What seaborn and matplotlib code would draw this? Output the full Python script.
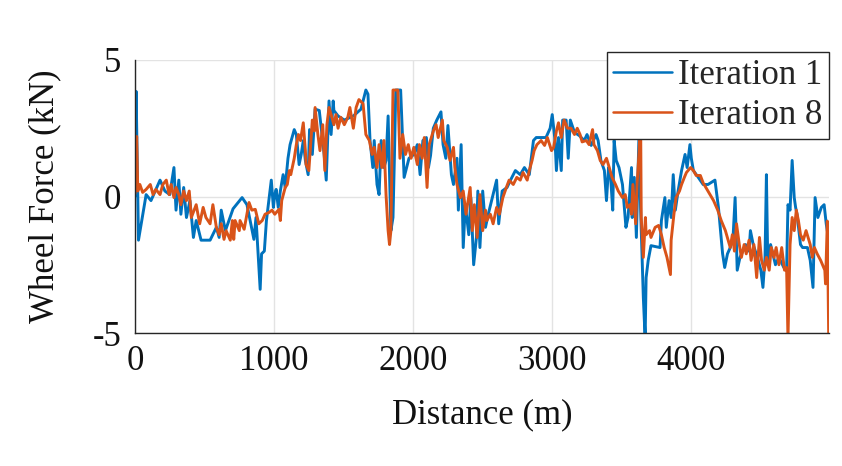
import numpy as np
import pandas as pd
import matplotlib
matplotlib.use("Agg")
import matplotlib.pyplot as plt
import seaborn as sns

# Iteration 1 (distance in m, force in kN)
dist_1 = [0, 8, 25, 80, 115, 180, 215, 250, 280, 295, 315, 330, 350, 370, 395, 420, 440, 475, 540, 585,
          605, 620, 650, 705, 770, 805, 855, 870, 900, 910, 930, 945, 980, 995, 1005, 1015, 1030, 1045, 1065, 1080,
          1100, 1115, 1145, 1160, 1180, 1195, 1210, 1225, 1245, 1255, 1275, 1295, 1325, 1360, 1375, 1395, 1410, 1425, 1430, 1460,
          1505, 1570, 1625, 1660, 1675, 1690, 1710, 1720, 1740, 1755, 1770, 1790, 1805, 1820, 1840, 1855, 1865, 1875, 1910, 1935,
          1970, 2005, 2030, 2050, 2070, 2095, 2110, 2125, 2145, 2170, 2200, 2215, 2235, 2250, 2275, 2290, 2315, 2325, 2345, 2360,
          2375, 2400, 2415, 2435, 2455, 2465, 2480, 2500, 2520, 2540, 2575, 2600, 2615, 2640, 2675, 2700, 2735, 2770, 2800, 2835,
          2865, 2885, 2955, 2985, 3000, 3020, 3030, 3045, 3065, 3075, 3100, 3115, 3130, 3160, 3195, 3230, 3250, 3280, 3315, 3330,
          3350, 3375, 3390, 3405, 3420, 3435, 3445, 3460, 3480, 3505, 3530, 3545, 3570, 3575, 3590, 3605, 3625, 3635, 3655, 3668,
          3675, 3690, 3710, 3775, 3785, 3810, 3820, 3840, 3855, 3870, 3885, 3905, 3930, 3955, 3970, 3990, 4000, 4015, 4050, 4085,
          4120, 4170, 4195, 4225, 4240, 4260, 4280, 4300, 4315, 4330, 4350, 4390, 4415, 4425, 4445, 4475, 4500, 4515, 4530, 4540,
          4550, 4570, 4605, 4630, 4665, 4685, 4695, 4710, 4725, 4740, 4750, 4760, 4785, 4800, 4835, 4855, 4875, 4890, 4910, 4935,
          4955, 4970, 4985]
force_1 = [0.0, 3.85, -1.6, 0.07, -0.15, 0.6, 0.2, 0.07, 1.06, -0.5, 0.6, -0.65, 0.33, -0.77, -0.15, -1.5, -0.88, -1.6, -1.6, -1.13,
           -1.5, -0.5, -1.25, -0.45, -0.04, -0.3, -1.57, -0.77, -3.4, -2.1, -2.0, -0.88, 0.6, -0.4, 0.07, 0.26, -0.4, 0.2, 0.8, 0.33,
           1.4, 1.9, 2.45, 2.27, 1.17, 1.54, 2.05, 1.32, 0.8, 2.45, 1.54, 3.2, 3.15, 1.54, 0.6, 3.5, 2.27, 3.5, 3.15, 2.95,
           2.8, 2.95, 3.2, 3.9, 3.75, 2.05, 1.06, 2.05, 0.44, 0.07, 2.05, 1.06, 1.32, 2.95, -1.25, -0.77, 1.4, 3.9, 3.9, 0.7,
           1.4, 1.54, 1.9, 0.8, 2.05, 2.16, 1.06, 1.5, 2.5, 2.8, 3.1, 1.9, 1.4, 2.6, 0.8, 0.44, 1.4, -0.5, 1.9, -1.87,
           -0.3, -1.4, -0.04, -2.5, -1.5, 0.2, -1.87, 0.2, -1.13, -0.65, 0.07, 0.6, -1.0, 0.2, 0.33, 0.6, 0.95, 0.8, 1.06, 0.8,
           2.05, 2.16, 2.16, 2.5, 3.0, 2.05, 0.95, 2.16, 0.95, 2.8, 2.8, 1.4, 2.8, 2.35, 2.23, 2.05, 2.27, 1.87, 2.27, 2.05,
           1.32, 0.95, -0.15, 1.06, 0.7, -0.5, 2.05, 1.32, 1.06, 0.44, -1.13, -0.77, 1.06, -0.77, 0.7, -1.5, 2.5, -0.4, -3.7, -5.2,
           -2.97, -2.34, -1.8, -1.87, -0.88, -0.04, -1.13, -0.15, -0.77, 0.8, -0.5, 0.2, 0.95, 1.54, 1.06, 1.9, 1.4, 0.95, 0.7, 0.44,
           0.44, 0.6, -0.4, -2.1, -2.6, -2.1, -1.87, -1.5, -0.04, -2.7, -2.23, -1.76, -2.0, -1.25, -1.76, -2.23, -2.7, -3.33, -2.23, 0.8,
           -2.5, -1.76, -2.5, -2.23, -2.6, -2.7, -0.3, -0.5, 1.32, -0.04, -0.4, -0.65, -1.76, -1.87, -1.87, -2.34, -3.33, -0.04, -0.77, -0.4,
           -0.3, -1.0, -1.5]

# Iteration 8
dist_8 = [0, 12, 20, 35, 55, 80, 110, 130, 150, 180, 200, 225, 245, 260, 280, 295, 315, 330, 350, 370,
          390, 405, 425, 440, 465, 490, 510, 540, 560, 585, 605, 620, 640, 655, 685, 700, 710, 720, 750, 755,
          785, 820, 840, 865, 890, 915, 935, 965, 985, 1005, 1035, 1045, 1055, 1080, 1095, 1110, 1120, 1145, 1160, 1175,
          1190, 1210, 1225, 1230, 1250, 1265, 1275, 1290, 1295, 1315, 1330, 1350, 1365, 1380, 1395, 1410, 1430, 1445, 1460, 1480,
          1505, 1530, 1545, 1570, 1590, 1610, 1640, 1660, 1685, 1705, 1720, 1740, 1755, 1775, 1790, 1805, 1820, 1830, 1840, 1855,
          1890, 1905, 1925, 1945, 1965, 1985, 2005, 2030, 2045, 2065, 2080, 2100, 2115, 2145, 2165, 2180, 2210, 2220, 2245, 2265,
          2290, 2300, 2315, 2340, 2360, 2380, 2395, 2410, 2425, 2440, 2460, 2480, 2500, 2520, 2530, 2555, 2575, 2600, 2620, 2645,
          2670, 2690, 2720, 2745, 2770, 2790, 2820, 2835, 2855, 2870, 2890, 2920, 2945, 2965, 2995, 3010, 3030, 3045, 3065, 3085,
          3110, 3135, 3160, 3180, 3200, 3215, 3245, 3265, 3290, 3300, 3325, 3345, 3365, 3390, 3410, 3430, 3455, 3475, 3505, 3525,
          3540, 3560, 3570, 3580, 3600, 3610, 3625, 3635, 3640, 3655, 3670, 3675, 3700, 3710, 3740, 3765, 3785, 3805, 3825, 3850,
          3855, 3875, 3890, 3915, 3930, 3950, 3965, 3995, 4015, 4035, 4065, 4085, 4120, 4160, 4190, 4215, 4245, 4265, 4280, 4295,
          4310, 4325, 4345, 4360, 4380, 4395, 4415, 4430, 4450, 4470, 4490, 4505, 4525, 4540, 4560, 4575, 4595, 4610, 4630, 4650,
          4670, 4685, 4695, 4710, 4725, 4740, 4755, 4770, 4785, 4805, 4825, 4855, 4870, 4885, 4905, 4930, 4960, 4965, 4978, 4988]
force_8 = [0.1, 2.2, 0.2, 0.44, 0.15, 0.26, 0.44, 0.07, 0.26, 0.07, 0.44, 0.6, 0.07, 0.44, -0.04, 0.33, 0.07, -0.3, 0.2, -0.15,
           0.2, -0.77, -0.5, -0.3, -1.0, -0.4, -0.77, -1.0, -0.3, -1.13, -1.4, -1.0, -1.57, -1.25, -1.6, -0.88, -1.57, -0.88, -1.25, -0.88,
           -1.2, -0.22, -0.5, -0.47, -1.0, -0.88, -0.65, -0.58, -0.5, -0.65, -0.47, -0.88, -0.15, 0.33, 0.44, 0.95, 0.8, 1.4, 1.9, 2.27,
           2.05, 2.7, 1.68, 1.17, 0.95, 2.05, 2.8, 2.4, 3.26, 2.27, 1.68, 2.63, 0.95, 2.63, 3.26, 3.0, 2.63, 3.0, 2.5, 2.9,
           2.63, 2.9, 3.26, 2.5, 3.26, 3.55, 3.4, 2.27, 2.05, 1.54, 1.8, 1.06, 1.9, 1.06, 2.05, 0.07, -1.25, -1.76, -1.25, 3.9,
           3.9, 1.4, 2.27, 1.54, 1.9, 1.4, 1.8, 1.17, 1.9, 1.4, 2.16, 0.33, 1.9, 2.4, 2.63, 2.16, 2.8, 2.05, 1.8, 1.32,
           1.8, 1.06, 0.44, -0.04, 0.2, -0.65, -0.15, 0.33, -1.25, -0.3, -1.5, 0.07, -1.25, -0.5, -0.88, -0.65, -1.0, -0.4, -0.65, -0.04,
           0.33, 0.6, 0.44, 0.7, 0.6, 0.88, 0.6, 0.95, 1.32, 1.68, 1.9, 2.05, 1.87, 2.16, 1.68, 1.8, 2.4, 2.7, 2.16, 2.8,
           2.5, 2.5, 2.27, 2.5, 2.27, 2.0, 2.05, 1.9, 2.45, 1.9, 1.68, 1.32, 1.17, 1.4, 1.06, 0.7, 0.44, 0.2, -0.04, 0.07,
           -0.4, -0.3, -0.65, 0.44, -1.0, 0.44, 1.68, 3.2, -0.77, -2.23, -0.77, -1.4, -1.25, -1.5, -1.13, -1.06, -1.4, -1.87, -2.23, -2.86,
           -1.6, -0.65, -0.04, 0.2, 0.44, 0.7, 0.88, 1.06, 0.95, 0.77, 0.77, 0.5, 0.2, -0.15, -0.5, -0.88, -1.25, -1.6, -1.87, -1.4,
           -2.0, -1.0, -1.76, -2.23, -1.76, -2.1, -1.6, -2.34, -1.76, -2.97, -1.5, -2.34, -2.7, -2.23, -2.7, -1.87, -2.23, -1.87, -2.5, -1.87,
           -2.7, -2.6, -5.2, -1.76, -0.77, -1.25, -0.5, -0.88, -1.4, -1.6, -1.25, -1.76, -2.23, -1.87, -2.1, -2.34, -2.7, -3.2, -0.9, -5.2]

x_ticks = [0, 1000, 2000, 3000, 4000]
y_ticks = [-5, 0, 5]

sns.set_theme(style="whitegrid")
plt.rcParams["font.family"] = ["Liberation Serif", "DejaVu Serif"]
plt.rcParams["axes.unicode_minus"] = False

df1 = pd.DataFrame({"Distance": dist_1, "Force": force_1})
df8 = pd.DataFrame({"Distance": dist_8, "Force": force_8})

fig = plt.figure(figsize=(8.42, 4.66), dpi=100)
ax = fig.add_axes([135 / 842, 1 - 333 / 466, (829 - 135) / 842, (333 - 60) / 466])

sns.lineplot(data=df1, x="Distance", y="Force", ax=ax, color="#0072BD", linewidth=2.1,
             label="Iteration 1", estimator=None, sort=False)
sns.lineplot(data=df8, x="Distance", y="Force", ax=ax, color="#D95319", linewidth=2.1,
             label="Iteration 8", estimator=None, sort=False)

ax.set_xlim(0, 4990)
ax.set_ylim(-5, 5)
ax.set_xticks(x_ticks)
ax.set_yticks(y_ticks)
ax.set_xticklabels([str(t) for t in x_ticks])
ax.set_yticklabels([str(t) for t in y_ticks])

ax.set_facecolor("white")
ax.grid(True, color="#e3e3e3", linewidth=1.0)
for side in ["top", "right"]:
    ax.spines[side].set_visible(False)
for side in ["left", "bottom"]:
    ax.spines[side].set_visible(True)
    ax.spines[side].set_color("#262626")
    ax.spines[side].set_linewidth(1.0)

ax.tick_params(axis="both", direction="in", length=5, width=1, color="#262626",
               labelsize=25, labelcolor="#111111")
ax.tick_params(axis="x", pad=9)
ax.tick_params(axis="y", pad=10)
ax.set_xlabel("Distance (m)", fontsize=25, color="#111111", labelpad=14)
ax.set_ylabel("Wheel Force (kN)", fontsize=25, color="#111111", labelpad=22)

leg = ax.legend(loc="upper right", bbox_to_anchor=(829 / 842, 1 - 52 / 466),
                bbox_transform=fig.transFigure, borderaxespad=0, fontsize=25,
                handlelength=1.7, handletextpad=0.15, borderpad=0.2, labelspacing=0.2,
                frameon=True, fancybox=False, framealpha=1)
leg.get_frame().set_edgecolor("#262626")
leg.get_frame().set_linewidth(1.0)
for line in leg.get_lines():
    line.set_linewidth(1.8)

fig.savefig("out.png", dpi=100)
